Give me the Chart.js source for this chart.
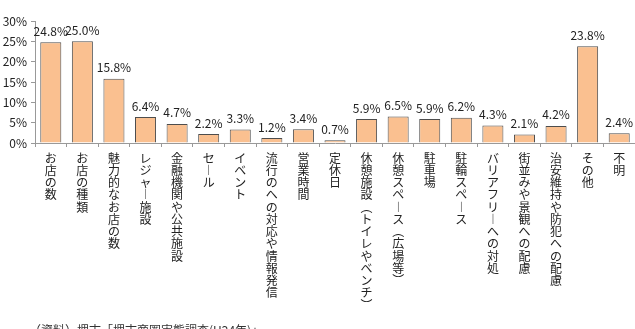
<!DOCTYPE html>
<html><head><meta charset="utf-8">
<script src="https://cdn.jsdelivr.net/npm/chart.js@4/dist/chart.umd.min.js"></script>
<style>
html,body{margin:0;padding:0;background:#fff;}
#wrap{position:relative;width:635px;height:329px;overflow:hidden;}
#note{position:absolute;left:29px;top:321px;font:12px "Noto Sans CJK JP",sans-serif;color:#333;white-space:nowrap;}
</style></head>
<body>
<div id="wrap"><canvas id="c" width="635" height="329"></canvas>
<div id="note">（資料）堺市「堺市商圏実態調査(H24年)」</div></div>
<script>
const categories = ["お店の数","お店の種類","魅力的なお店の数","レジャー施設","金融機関や公共施設","セール","イベント","流行のへの対応や情報発信","営業時間","定休日","休憩施設(トイレやベンチ)","休憩スペース(広場等)","駐車場","駐輪スペース","バリアフリーへの対処","街並みや景観への配慮","治安維持や防犯への配慮","その他","不明"];
const values = [24.8,25.0,15.8,6.4,4.7,2.2,3.3,1.2,3.4,0.7,5.9,6.5,5.9,6.2,4.3,2.1,4.2,23.8,2.4];
const yTicks = [0,5,10,15,20,25,30];

function vertical(s){
  return Array.from(s.replace(/\(/g,'︵').replace(/\)/g,'︶').replace(/ー/g,'︱'));
}
const FONT = '"Noto Sans CJK JP", sans-serif';
const labelPlugin = {
  id:'vals',
  afterDatasetsDraw(chart){
    const ctx = chart.ctx;
    const meta = chart.getDatasetMeta(0);
    ctx.save();
    ctx.font = '12px ' + FONT;
    ctx.fillStyle = '#222';
    ctx.textAlign = 'center';
    ctx.textBaseline = 'middle';
    meta.data.forEach((bar,i)=>{
      ctx.fillText(values[i].toFixed(1)+'%', bar.x, bar.y - 11);
    });
    ctx.restore();
  }
};
new Chart(document.getElementById('c'),{
  type:'bar',
  data:{labels:categories.map(vertical),datasets:[{data:values,backgroundColor:'#FAC090',borderColor:'#4d4d4d',borderWidth:1,barPercentage:0.74,categoryPercentage:0.9}]},
  options:{
    responsive:false,animation:false,
    layout:{padding:{top:21,right:0,left:0,bottom:0}},
    plugins:{legend:{display:false},tooltip:{enabled:false}},
    scales:{
      x:{
        afterFit(s){s.height=186;},
        border:{color:'#999'},
        grid:{drawOnChartArea:false,drawTicks:true,tickLength:4,color:'#999',offset:true},
        ticks:{autoSkip:false,maxRotation:0,minRotation:0,padding:5,color:'#222',font:{family:FONT,size:12,lineHeight:1.02}}
      },
      y:{
        min:0,max:30,
        afterFit(s){s.width=35;},
        afterBuildTicks(s){s.ticks=yTicks.map(v=>({value:v}));},
        border:{color:'#999'},
        grid:{drawOnChartArea:false,drawTicks:true,tickLength:4,color:'#999'},
        ticks:{padding:4,color:'#222',font:{family:FONT,size:12},callback:v=>v+'%'}
      }
    }
  },
  plugins:[labelPlugin]
});
</script>
</body></html>
